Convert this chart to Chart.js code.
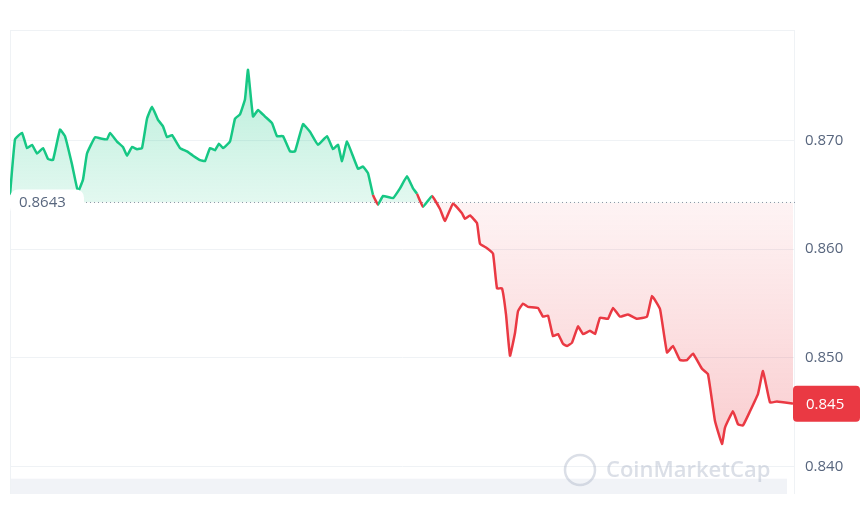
<!DOCTYPE html>
<html><head><meta charset="utf-8">
<script src="https://cdn.jsdelivr.net/npm/chart.js@4"></script>
<style>html,body{margin:0;padding:0;background:#fff}#w{width:868px;height:513px}</style>
</head><body><div id="w"><canvas id="c"></canvas></div>
<script>
const times=[10,15,22,27,32,37,43,48,53,60,65,72,78,83,87,95,100,107,110,117,123,127,132,137,142,147,152,158,163,167,172,180,187,193,200,205,210,215,219,223,230,235,240,245,248,253,258,265,272,277,283,290,295,303,310,318,327,333,338,342,347,358,363,368,373,378,383,393,400,407,413,417,423,432,440,445,453,462,465,470,477,480,487,493,497,502,506,510,515,518,523,528,538,543,548,553,558,563,567,572,578,583,590,595,600,608,613,620,628,637,647,652,660,667,673,680,687,693,702,708,715,722,725,733,738,743,750,758,763,770,777,793];
const prices=[0.8650,0.8701,0.8707,0.8693,0.8696,0.8688,0.8693,0.8683,0.8682,0.8710,0.8704,0.8678,0.8653,0.8664,0.8688,0.8703,0.8702,0.8701,0.8707,0.8699,0.8694,0.8686,0.8694,0.8692,0.8693,0.8720,0.8731,0.8719,0.8713,0.8703,0.8705,0.8693,0.8690,0.8686,0.8682,0.8681,0.8693,0.8691,0.8697,0.8693,0.8699,0.8720,0.8724,0.8738,0.8765,0.8722,0.8728,0.8722,0.8716,0.8704,0.8704,0.8690,0.8690,0.8715,0.8708,0.8696,0.8704,0.8692,0.8696,0.8681,0.8699,0.8674,0.8676,0.8670,0.8650,0.8641,0.8649,0.8647,0.8656,0.8667,0.8656,0.8651,0.8639,0.8649,0.8637,0.8626,0.8642,0.8633,0.8628,0.8631,0.8624,0.8605,0.8601,0.8596,0.8564,0.8564,0.8540,0.8502,0.8523,0.8543,0.8550,0.8547,0.8546,0.8538,0.8539,0.8520,0.8522,0.8513,0.8511,0.8514,0.8529,0.8522,0.8525,0.8522,0.8537,0.8536,0.8546,0.8538,0.8540,0.8536,0.8538,0.8557,0.8545,0.8505,0.8511,0.8498,0.8498,0.8504,0.8490,0.8485,0.8442,0.8421,0.8436,0.8451,0.8439,0.8438,0.8451,0.8467,0.8488,0.8459,0.8460,0.8458];
const baseline=0.8643;
const lastPrice='0.845';
const tickValues=[0.84,0.85,0.86,0.87];
const GREEN='#16c784',RED='#ea3943';
const pts=times.map((t,i)=>({x:t,y:prices[i]}));
function grad(ctx,top){const c=ctx.chart;const a=c.chartArea;if(!a)return null;const y=c.scales.y.getPixelForValue(baseline);
  if(top){const g=c.ctx.createLinearGradient(0,a.top,0,y);g.addColorStop(0,'rgba(22,199,132,0.35)');g.addColorStop(1,'rgba(22,199,132,0.12)');return g;}
  const g=c.ctx.createLinearGradient(0,y,0,c.scales.y.getPixelForValue(0.842));g.addColorStop(0,'rgba(234,57,67,0.06)');g.addColorStop(1,'rgba(234,57,67,0.25)');return g;}
const deco={id:'deco',beforeDatasetsDraw(c){const x=c.ctx,a=c.chartArea;x.save();
  const vy=c.scales.y.getPixelForValue(0.8389);
  x.fillStyle='rgba(215,220,232,0.35)';x.fillRect(a.left,vy,a.right-a.left-8,a.bottom-vy);
  x.strokeStyle='#eff2f5';x.lineWidth=1;x.beginPath();x.moveTo(a.left+.5,a.top);x.lineTo(a.left+.5,a.bottom);x.moveTo(a.right-.5,a.top);x.lineTo(a.right-.5,a.bottom);x.moveTo(a.left,a.top+.5);x.lineTo(a.right,a.top+.5);x.stroke();
  x.font='600 22px "Open Sans"';x.fillStyle='rgba(165,175,195,0.4)';x.textBaseline='middle';x.fillText('CoinMarketCap',606,471);
  x.strokeStyle='rgba(165,175,195,0.4)';x.lineWidth=2.5;x.beginPath();x.arc(580,470,15,0,Math.PI*2);x.stroke();
  const by=c.scales.y.getPixelForValue(baseline);x.setLineDash([1,3]);x.strokeStyle='#8a94a6';x.lineWidth=1;x.beginPath();x.moveTo(a.left,by);x.lineTo(a.right,by);x.stroke();x.restore();},
 afterDatasetsDraw(c){const x=c.ctx,a=c.chartArea;x.save();const by=c.scales.y.getPixelForValue(baseline);
  x.fillStyle='#fff';x.beginPath();x.roundRect(a.left,by-13,74,26,8);x.fill();
  x.fillStyle='#58667e';x.font='15px "Open Sans"';x.textBaseline='middle';x.fillText('0.8643',a.left+9,by);
  const ly=c.scales.y.getPixelForValue(prices[prices.length-1]);x.fillStyle=RED;x.beginPath();x.roundRect(793,ly-18,67,36,4);x.fill();
  x.fillStyle='#fff';x.fillText(lastPrice,806,ly+1);x.restore();}};
new Chart(document.getElementById('c'),{type:'line',
 data:{datasets:[{data:pts,borderWidth:2.5,pointRadius:0,tension:0.1,borderColor:GREEN,
  segment:{borderColor:s=>(s.p1.parsed.y<baseline||s.p0.parsed.y<baseline&&s.p1.parsed.y<baseline+0.0003&&s.p0DataIndex>70)?RED:GREEN},
  fill:{target:{value:baseline},above:c=>grad(c,true),below:c=>grad(c,false)}}]},
 options:{responsive:true,maintainAspectRatio:false,animation:false,
  layout:{padding:{left:10,top:30,bottom:8,right:0}},
  plugins:{legend:{display:false},tooltip:{enabled:false}},
  scales:{x:{type:'linear',min:10,max:795,display:false},
   y:{position:'right',min:0.83749,max:0.88016,afterBuildTicks:s=>{s.ticks=tickValues.map(v=>({value:v}));},afterFit:s=>{s.width=73;},
    border:{display:false},grid:{color:'#eff2f5',drawTicks:false},
    ticks:{padding:10,color:'#58667e',font:{size:15,family:'Open Sans'},callback:v=>v.toFixed(3)}}}},
 plugins:[deco]});
</script></body></html>
